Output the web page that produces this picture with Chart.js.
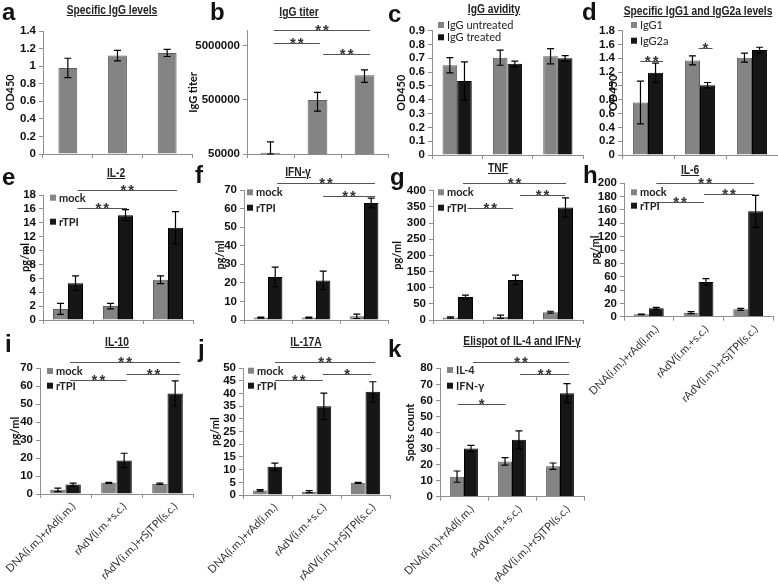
<!DOCTYPE html>
<html><head><meta charset="utf-8">
<script src="https://cdn.jsdelivr.net/npm/chart.js@4.4.1/dist/chart.umd.min.js"></script>
<style>
html,body{margin:0;padding:0;background:#fff;width:778px;height:584px;overflow:hidden;position:relative}
canvas{position:absolute;left:0;top:0}
.lt{position:absolute;font:bold 24px 'Liberation Sans',Arial,sans-serif;line-height:24px;color:#111}
.tt{position:absolute;font:bold 12.5px 'Liberation Sans',Arial,sans-serif;line-height:12px;text-decoration:underline;white-space:nowrap;color:#222;transform:translateX(-50%) scaleX(0.82);transform-origin:50% 50%}
</style></head><body>
<script>
// ================= DATA =================
const groups = ["DNA(i.m.)+rAd(i.m.)", "rAdV(i.m.+s.c.)", "rAdV(i.m.)+rSjTPI(s.c.)"];
const cytokineSeries = ["mock", "rTPI"];

// a  Specific IgG levels (OD450)
const iggMean = [0.98, 1.12, 1.15];
const iggErr  = [0.11, 0.06, 0.04];
const iggTicks = [0, 1.4, 0.2];

// b  IgG titer (log)
const titerMean = [53000, 500000, 1430000];
const titerErr  = [31000, 190000, 370000];
const titerTicks = [50000, 500000, 5000000];
const sigB = [[0.07, 2.12, 9.9e6, "**"], [0.07, 1.05, 5.76e6, "**"], [1.12, 2.12, 3.56e6, "**"]];

// c  IgG avidity
const avidityNames = ["IgG untreated", "IgG treated"];
const avidityUntreated    = [0.65, 0.705, 0.715];
const avidityUntreatedErr = [0.055, 0.055, 0.055];
const avidityTreated      = [0.535, 0.66, 0.70];
const avidityTreatedErr   = [0.14, 0.02, 0.02];
const avidityTicks = [0, 0.9, 0.1];

// d  IgG1 / IgG2a
const subclassNames = ["IgG1", "IgG2a"];
const igg1     = [0.76, 1.37, 1.41];
const igg1Err  = [0.31, 0.065, 0.065];
const igg2a    = [1.19, 1.01, 1.52];
const igg2aErr = [0.14, 0.04, 0.04];
const subclassTicks = [0, 1.8, 0.2];
const sigD = [[-0.15, 0.29, 1.36, "**"], [0.97, 1.24, 1.545, "*"]];

// e  IL-2
const il2Mock = [1.6, 2.0, 5.8];   const il2MockErr = [0.8, 0.4, 0.55];
const il2TPI  = [5.3, 15.1, 13.3]; const il2TPIErr  = [1.05, 0.8, 2.3];
const il2Ticks = [0, 18, 2];
const sigE = [[0.19, 2.18, 18.7, "**"], [0.19, 1.18, 16.2, "**"]];

// f  IFN-γ
const ifnMock = [1.3, 1.3, 2.0];   const ifnMockErr = [0.3, 0.3, 1.2];
const ifnTPI  = [23.2, 21.3, 63];  const ifnTPIErr  = [5.3, 5.0, 2.6];
const ifnTicks = [0, 70, 10];
const sigF = [[0.19, 2.23, 73.6, "**"], [1.15, 2.23, 66.8, "**"]];

// g  TNF
const tnfMock = [8, 10, 24];       const tnfMockErr = [2, 5, 3];
const tnfTPI  = [71, 124, 348];    const tnfTPIErr  = [6, 15, 30];
const tnfTicks = [0, 400, 50];
const sigG = [[0.10, 2.16, 423, "**"], [1.24, 2.14, 386, "**"], [0.19, 1.10, 347, "**"]];

// h  IL-6
const il6Mock = [3.5, 6, 11];      const il6MockErr = [0.5, 1.5, 1.5];
const il6TPI  = [12.5, 52, 158];   const il6TPIErr  = [1.5, 5, 24];
const il6Ticks = [0, 200, 20];
const sigH = [[0.15, 2.12, 200, "**"], [0.15, 1.11, 172, "**"], [1.11, 2.12, 183.5, "**"]];

// i  IL-10
const il10Mock = [2.3, 6.2, 5.7];  const il10MockErr = [1.0, 0.3, 0.4];
const il10TPI  = [5.3, 18.7, 56];  const il10TPIErr  = [0.8, 4, 7];
const il10Ticks = [0, 70, 10];
const sigI = [[0.09, 2.25, 73.7, "**"], [0.09, 1.2, 63.5, "**"], [1.2, 2.25, 66.8, "**"]];

// j  IL-17A
const il17Mock = [1.8, 1.3, 4.8];  const il17MockErr = [0.3, 0.4, 0.2];
const il17TPI  = [11.1, 35, 40.7]; const il17TPIErr  = [1.5, 5.2, 4];
const il17Ticks = [0, 50, 5];
const sigJ = [[0.15, 2.2, 52.6, "**"], [0.15, 1.13, 45.4, "**"], [1.13, 2.12, 47.8, "*"]];

// k  Elispot
const elispotNames = ["IL-4", "IFN-γ"];
const elispotIL4 = [12.5, 22, 19];   const elispotIL4Err = [3.5, 2.3, 2];
const elispotIFN = [30, 35.5, 64.5]; const elispotIFNErr = [2, 5.5, 6];
const elispotTicks = [0, 80, 10];
const sigK = [[0.19, 2.19, 84, "**"], [1.17, 2.19, 76.3, "**"], [-0.13, 0.87, 57.6, "*"]];

// ================= STYLE / LAYOUT =================
const W = 778, H = 584;
const GRAY = "#848484", GRAY_B = "#5e5e5e", BLACK = "#161616", BLACK_B = "#000000";
const AXIS = "#8f8f8f";
const NARROW = "Lato,'Liberation Sans',Arial,sans-serif";
const SANS = "'Liberation Sans',Arial,sans-serif";
const TICK_FONT = {family: SANS, size: 11.5, weight: "bold"};
const TITLE_LH = 11 * 1.2;

const decoPlugin = {
  id: "panelDeco",
  afterDatasetsDraw(chart, args, opts) {
    const ctx = chart.ctx, ys = chart.scales.y, xs = chart.scales.x;
    ctx.save();
    // error bars
    chart.data.datasets.forEach((ds, di) => {
      const meta = chart.getDatasetMeta(di);
      meta.data.forEach((el, i) => {
        const v = ds.data[i], e = ds.err[i];
        const top = ys.getPixelForValue(v + e);
        const bot = ys.getPixelForValue(Math.max(v - e, ys.min));
        ctx.strokeStyle = "#000"; ctx.lineWidth = 1.2;
        ctx.beginPath();
        ctx.moveTo(el.x, top); ctx.lineTo(el.x, bot);
        ctx.moveTo(el.x - 3.5, top); ctx.lineTo(el.x + 3.5, top);
        ctx.moveTo(el.x - 3.5, bot); ctx.lineTo(el.x + 3.5, bot);
        ctx.stroke();
      });
    });
    // significance brackets
    (opts.brackets || []).forEach(([a, b, v, lab]) => {
      const x1 = xs.getPixelForValue(a), x2 = xs.getPixelForValue(b);
      const yy = Math.round(ys.getPixelForValue(v)) + 0.5;
      ctx.strokeStyle = "#555"; ctx.lineWidth = 1;
      ctx.beginPath(); ctx.moveTo(x1, yy); ctx.lineTo(x2, yy); ctx.stroke();
      ctx.fillStyle = "#333";
      ctx.font = "bold 15px " + SANS;
      ctx.textAlign = "center"; ctx.textBaseline = "alphabetic";
      try { ctx.letterSpacing = "2px"; } catch (e) {}
      ctx.fillText(lab, (x1 + x2) / 2 + 1, yy + 4);
      try { ctx.letterSpacing = "0px"; } catch (e) {}
    });
    // inside legend
    if (opts.legend) {
      const L = opts.legend;
      ctx.font = (L.bold ? "bold " : "") + "11px " + NARROW;
      ctx.textAlign = "left"; ctx.textBaseline = "middle";
      chart.data.datasets.forEach((ds, di) => {
        const yy = L.y[di];
        ctx.fillStyle = ds.backgroundColor;
        ctx.fillRect(L.x, yy - 3, 6, 6);
        ctx.fillStyle = "#222";
        ctx.fillText(ds.label, L.x + 9, yy + 0.5);
      });
    }
    ctx.restore();
  }
};

function makeChart(c) {
  const cv = document.createElement("canvas");
  cv.width = W; cv.height = H;
  cv.style.width = W + "px"; cv.style.height = H + "px";
  document.body.appendChild(cv);
  const [L, T, R, B] = c.area;
  const yW = Math.max(L - (c.titleX - TITLE_LH / 2), 46);
  const padLeft = L - yW;
  const titlePad = c.titleX - (L - yW) - TITLE_LH / 2;
  const datasets = c.series.map(s => ({
    label: s.label, data: s.data, err: s.err,
    backgroundColor: s.dark ? BLACK : GRAY,
    borderColor: s.dark ? BLACK_B : GRAY_B,
    borderWidth: 1,
    categoryPercentage: c.catPct, barPercentage: 1
  }));
  const yScale = {
    type: c.log ? "logarithmic" : "linear",
    min: c.log ? c.min : c.ticks[0],
    max: c.log ? c.max : c.ticks[1],
    ticks: {
      autoSkip: false, color: "#111", font: TICK_FONT, padding: 3,
      callback: v => String(Math.round(v * 100) / 100)
    },
    grid: {display: true, drawOnChartArea: false, drawTicks: true, tickLength: 4, color: AXIS},
    border: {display: true, color: AXIS, width: 1},
    title: {display: true, text: c.yTitle, color: "#111", padding: {top: titlePad, bottom: 0},
            font: {family: NARROW, size: 11, weight: "bold"}},
    afterFit(s) { s.width = yW; s.paddingTop = 0; s.paddingBottom = 0; }
  };
  if (!c.log) yScale.ticks.stepSize = c.ticks[2];
  if (c.log) yScale.afterBuildTicks = s => { s.ticks = c.logTicks.map(v => ({value: v})); };
  return new Chart(cv, {
    type: "bar",
    data: {labels: groups, datasets},
    options: {
      responsive: false, animation: false, devicePixelRatio: 1,
      layout: {padding: {left: padLeft, top: T, right: W - R, bottom: 0}},
      plugins: {
        legend: {display: false}, tooltip: {enabled: false}, title: {display: false},
        panelDeco: {brackets: c.brackets, legend: c.legend}
      },
      scales: {
        x: {
          type: "category", offset: true,
          grid: {display: true, offset: true, drawOnChartArea: false, drawTicks: true, tickLength: 4, color: AXIS},
          border: {display: true, color: AXIS, width: 1},
          ticks: {display: !!c.xLabels, minRotation: 45, maxRotation: 45, autoSkip: false, labelOffset: 8,
                  color: "#333", padding: 2, font: {family: NARROW, size: 11}},
          afterFit(s) { s.height = H - B; s.paddingLeft = 0; s.paddingRight = 0; }
        },
        y: yScale
      }
    },
    plugins: [decoPlugin]
  });
}

const two = (n1, d1, e1, n2, d2, e2) => [{label: n1, data: d1, err: e1, dark: false}, {label: n2, data: d2, err: e2, dark: true}];

// a
makeChart({area: [43, 31, 192, 154], titleX: 10, yTitle: "OD450", ticks: iggTicks, catPct: 0.38,
  series: [{label: "Specific IgG", data: iggMean, err: iggErr, dark: false}]});
// b
makeChart({area: [247, 30.7, 388, 154], titleX: 193, yTitle: "IgG titer", log: true, min: titerTicks[0], max: 9.6e6,
  logTicks: titerTicks, catPct: 0.42, brackets: sigB,
  series: [{label: "IgG titer", data: titerMean, err: titerErr, dark: false}]});
// c
makeChart({area: [432, 30.7, 583, 155], titleX: 401, yTitle: "OD450", ticks: avidityTicks, catPct: 0.58,
  legend: {x: 438, y: [25, 37.3]},
  series: two(avidityNames[0], avidityUntreated, avidityUntreatedErr, avidityNames[1], avidityTreated, avidityTreatedErr)});
// d
makeChart({area: [622, 30.7, 778, 155], titleX: 613, yTitle: "OD450", ticks: subclassTicks, catPct: 0.58,
  legend: {x: 631, y: [25, 40.7]}, brackets: sigD,
  series: two(subclassNames[0], igg1, igg1Err, subclassNames[1], igg2a, igg2aErr)});
// e
makeChart({area: [43, 195, 193, 320], titleX: 25, yTitle: "pg/ml", ticks: il2Ticks, catPct: 0.6,
  legend: {x: 50, y: [197.7, 221.7], bold: true}, brackets: sigE,
  series: two(cytokineSeries[0], il2Mock, il2MockErr, cytokineSeries[1], il2TPI, il2TPIErr)});
// f
makeChart({area: [244, 190, 388, 320], titleX: 220, yTitle: "pg/ml", ticks: ifnTicks, catPct: 0.6,
  legend: {x: 247, y: [192.3, 207.7], bold: true}, brackets: sigF,
  series: two(cytokineSeries[0], ifnMock, ifnMockErr, cytokineSeries[1], ifnTPI, ifnTPIErr)});
// g
makeChart({area: [433, 190.7, 583, 320], titleX: 397, yTitle: "pg/ml", ticks: tnfTicks, catPct: 0.6,
  legend: {x: 438, y: [192.3, 207.7], bold: true}, brackets: sigG,
  series: two(cytokineSeries[0], tnfMock, tnfMockErr, cytokineSeries[1], tnfTPI, tnfTPIErr)});
// h
makeChart({area: [624, 183.3, 773, 316.7], titleX: 595, yTitle: "pg/ml", ticks: il6Ticks, catPct: 0.6,
  legend: {x: 631, y: [192.3, 205.7], bold: true}, brackets: sigH, xLabels: true,
  series: two(cytokineSeries[0], il6Mock, il6MockErr, cytokineSeries[1], il6TPI, il6TPIErr)});
// i
makeChart({area: [40, 368.3, 193, 494], titleX: 15, yTitle: "pg/ml", ticks: il10Ticks, catPct: 0.6,
  legend: {x: 47, y: [371, 385.7], bold: true}, brackets: sigI, xLabels: true,
  series: two(cytokineSeries[0], il10Mock, il10MockErr, cytokineSeries[1], il10TPI, il10TPIErr)});
// j
makeChart({area: [243, 368.3, 390, 495], titleX: 215, yTitle: "pg/ml", ticks: il17Ticks, catPct: 0.6,
  legend: {x: 248, y: [370.7, 385.7], bold: true}, brackets: sigJ, xLabels: true,
  series: two(cytokineSeries[0], il17Mock, il17MockErr, cytokineSeries[1], il17TPI, il17TPIErr)});
// k
makeChart({area: [440, 368.3, 584, 496.7], titleX: 410, yTitle: "Spots count", ticks: elispotTicks, catPct: 0.58,
  legend: {x: 447, y: [370, 385.7], bold: true}, brackets: sigK, xLabels: true,
  series: two(elispotNames[0], elispotIL4, elispotIL4Err, elispotNames[1], elispotIFN, elispotIFNErr)});

// panel letters and titles (real text)
const panelText = [
  ["a", "Specific IgG levels"], ["b", "IgG titer"], ["c", "IgG avidity"], ["d", "Specific IgG1 and IgG2a levels"],
  ["e", "IL-2"], ["f", "IFN-γ"], ["g", "TNF"], ["h", "IL-6"],
  ["i", "IL-10"], ["j", "IL-17A"], ["k", "Elispot of IL-4 and IFN-γ"]
];
const letterPos = [[2, 0], [210, 0], [388, 2], [582, 0], [2, 165], [195, 163], [390, 165], [583, 163], [5, 332], [198, 337], [388, 337]];
const titlePos = [[112, 4], [299, 6], [494, 3], [698, 5], [116, 167], [298, 166], [498, 162], [690, 164], [117, 336], [306, 336], [522, 335]];
panelText.forEach(([l, t], i) => {
  const a = document.createElement("div");
  a.className = "lt"; a.textContent = l;
  a.style.left = letterPos[i][0] + "px"; a.style.top = letterPos[i][1] + "px";
  document.body.appendChild(a);
  const b = document.createElement("div");
  b.className = "tt"; b.textContent = t;
  b.style.left = titlePos[i][0] + "px"; b.style.top = titlePos[i][1] + "px";
  document.body.appendChild(b);
});
</script>
</body></html>
